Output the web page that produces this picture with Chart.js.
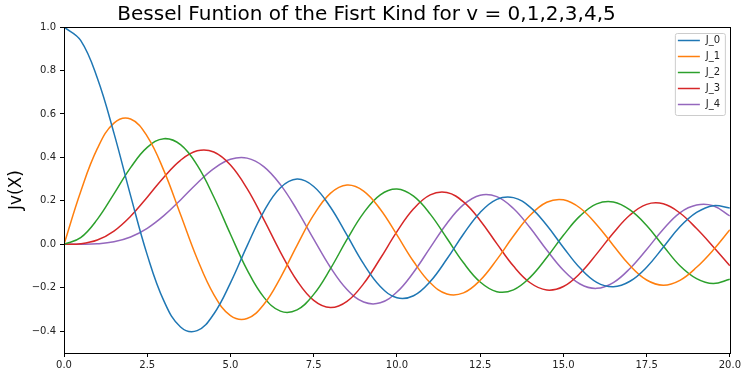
<!DOCTYPE html>
<html>
<head>
<meta charset="utf-8">
<script src="https://cdn.jsdelivr.net/npm/chart.js@4"></script>
<style>
  html, body { margin: 0; padding: 0; background: #fff; }
  #wrap { width: 743px; height: 372px; }
</style>
</head>
<body>
<div id="wrap"><canvas id="graph"></canvas></div>
<script>
// values
const xs = [0, 0.5, 1, 1.5, 2, 2.5, 3, 3.5, 4, 4.5, 5, 5.5, 6, 6.5, 7, 7.5, 8, 8.5, 9, 9.5,
  10, 10.5, 11, 11.5, 12, 12.5, 13, 13.5, 14, 14.5, 15, 15.5, 16, 16.5, 17, 17.5, 18, 18.5, 19, 19.5, 20];

const j0 = [1.0, 0.9385, 0.7652, 0.5118, 0.2239, -0.0484, -0.2601, -0.3801, -0.3971, -0.3205,
  -0.1776, -0.0068, 0.1506, 0.2601, 0.3001, 0.2663, 0.1717, 0.0419, -0.0903, -0.1939,
  -0.2459, -0.2366, -0.1712, -0.0677, 0.0477, 0.1469, 0.2069, 0.2150, 0.1711, 0.0875,
  -0.0142, -0.1092, -0.1749, -0.1950, -0.1699, -0.1054, -0.0134, 0.0805, 0.1466, 0.1779, 0.1670];

const j1 = [0, 0.2423, 0.4401, 0.5579, 0.5767, 0.4971, 0.3391, 0.1374, -0.0660, -0.2311,
  -0.3276, -0.3414, -0.2767, -0.1538, -0.0047, 0.1352, 0.2346, 0.2731, 0.2453, 0.1613,
  0.0435, -0.0789, -0.1768, -0.2284, -0.2234, -0.1655, -0.0703, 0.0380, 0.1334, 0.1934,
  0.2051, 0.1672, 0.0904, -0.0050, -0.0977, -0.1641, -0.1880, -0.1655, -0.1057, -0.0262, 0.0668];

const j2 = [0, 0.0306, 0.1149, 0.2321, 0.3528, 0.4461, 0.4861, 0.4586, 0.3641, 0.2178,
  0.0466, -0.1173, -0.2429, -0.3074, -0.3014, -0.2303, -0.1130, 0.0223, 0.1448, 0.2279,
  0.2546, 0.2216, 0.1390, 0.0280, -0.0849, -0.1734, -0.2177, -0.2094, -0.1520, -0.0609,
  0.0415, 0.1308, 0.1862, 0.1950, 0.1584, 0.0868, -0.0075, -0.0984, -0.1578, -0.1806, -0.1603];

const j3 = [0, 0.0026, 0.0196, 0.0610, 0.1289, 0.2167, 0.3091, 0.3867, 0.4302, 0.4247,
  0.3648, 0.2561, 0.1148, -0.0354, -0.1676, -0.2580, -0.2911, -0.2626, -0.1809, -0.0653,
  0.0584, 0.1633, 0.2273, 0.2381, 0.1951, 0.1100, 0.0033, -0.1000, -0.1768, -0.2102,
  -0.1940, -0.1334, -0.0438, 0.0523, 0.1350, 0.1839, 0.1863, 0.1442, 0.0725, -0.0108, -0.0989];

const j4 = [0, 0.0002, 0.0025, 0.0118, 0.0340, 0.0738, 0.1321, 0.2043, 0.2812, 0.3485,
  0.3912, 0.3967, 0.3577, 0.2747, 0.1578, 0.0239, -0.1053, -0.2077, -0.2654, -0.2691,
  -0.2196, -0.1283, -0.0150, 0.0962, 0.1825, 0.2262, 0.2193, 0.1650, 0.0762, -0.0261,
  -0.1192, -0.1824, -0.2026, -0.1760, -0.1108, -0.0237, 0.0696, 0.1452, 0.1807, 0.1773, 0.1306];

const seriesNames = ['J_0', 'J_1', 'J_2', 'J_3', 'J_4'];
const seriesValues = [j0, j1, j2, j3, j4];
const colors = ['#1f77b4', '#ff7f0e', '#2ca02c', '#d62728', '#9467bd'];

const xTicks = [0, 2.5, 5, 7.5, 10, 12.5, 15, 17.5, 20];
const yTicks = [-0.4, -0.2, 0.0, 0.2, 0.4, 0.6, 0.8, 1.0];

const FONT = 'DejaVu Sans, sans-serif';

// matplotlib style label: one decimal, real minus sign
function fmt(v) {
  const s = Math.abs(v).toFixed(1);
  return v < -1e-9 ? '\u2212' + s : s;
}

// box around the plot area, like matplotlib spines
const frame = {
  id: 'frame',
  afterDatasetsDraw(chart) {
    const a = chart.chartArea, c = chart.ctx;
    c.save();
    c.strokeStyle = '#000';
    c.lineWidth = 1;
    c.strokeRect(Math.round(a.left) + 0.5, Math.round(a.top) + 0.5,
      Math.round(a.right - a.left), Math.round(a.bottom - a.top));
    c.restore();
  }
};

// legend box in the upper right corner of the plot
const boxLegend = {
  id: 'boxLegend',
  afterDraw(chart) {
    const c = chart.ctx, a = chart.chartArea;
    const sets = chart.data.datasets;
    const w = 50, rowH = 16;
    const h = sets.length * rowH + 2;
    const x = a.right - 5 - w, y = a.top + 6;
    c.save();
    c.fillStyle = 'rgba(255,255,255,0.8)';
    c.strokeStyle = '#cccccc';
    c.lineWidth = 1;
    c.beginPath();
    c.roundRect(x + 0.5, y + 0.5, w, h, 2);
    c.fill();
    c.stroke();
    c.font = '10px ' + FONT;
    c.textBaseline = 'middle';
    c.fillStyle = '#222';
    sets.forEach((ds, i) => {
      const cy = y + 7.5 + i * rowH;
      c.strokeStyle = ds.borderColor;
      c.lineWidth = 1.5;
      c.beginPath();
      c.moveTo(x + 3, cy);
      c.lineTo(x + 25, cy);
      c.stroke();
      c.fillText(ds.label, x + 31, cy);
    });
    c.restore();
  }
};

new Chart(document.getElementById('graph'), {
  type: 'line',
  data: {
    datasets: seriesValues.map((vals, i) => ({
      label: seriesNames[i],
      data: xs.map((x, k) => ({ x: x, y: vals[k] })),
      borderColor: colors[i],
      backgroundColor: colors[i],
      borderWidth: 1.5,
      pointRadius: 0,
      tension: 0.4,
      fill: false
    }))
  },
  options: {
    responsive: true,
    maintainAspectRatio: false,
    animation: false,
    layout: { padding: { top: 0, right: 10, bottom: 0, left: 0 } },
    plugins: {
      legend: { display: false },
      tooltip: { enabled: false },
      title: {
        display: true,
        text: 'Bessel Funtion of the Fisrt Kind for v = 0,1,2,3,4,5',
        color: '#000',
        font: { family: FONT, size: 20, weight: 'normal' },
        padding: { top: 3, bottom: 0 }
      }
    },
    scales: {
      x: {
        type: 'linear',
        min: 0,
        max: 20,
        afterBuildTicks: s => { s.ticks = xTicks.map(v => ({ value: v })); },
        afterFit: s => { s.height = 19; },
        grid: { drawOnChartArea: false, drawTicks: true, tickLength: 4, color: '#000' },
        border: { display: true, color: '#000' },
        ticks: {
          color: '#222',
          padding: 2,
          maxRotation: 0,
          font: { family: FONT, size: 10 },
          callback: v => fmt(v)
        }
      },
      y: {
        type: 'linear',
        min: -0.5,
        max: 1.0,
        afterBuildTicks: s => { s.ticks = yTicks.map(v => ({ value: v })); },
        afterFit: s => { s.width = 64; },
        grid: { drawOnChartArea: false, drawTicks: true, tickLength: 4, color: '#000' },
        border: { display: true, color: '#000' },
        title: {
          display: true,
          text: 'Jv(X)',
          color: '#000',
          font: { family: FONT, size: 17 },
          padding: { top: 6, bottom: 0 }
        },
        ticks: {
          color: '#222',
          padding: 4,
          font: { family: FONT, size: 10 },
          callback: v => fmt(v)
        }
      }
    }
  },
  plugins: [frame, boxLegend]
});
</script>
</body>
</html>
